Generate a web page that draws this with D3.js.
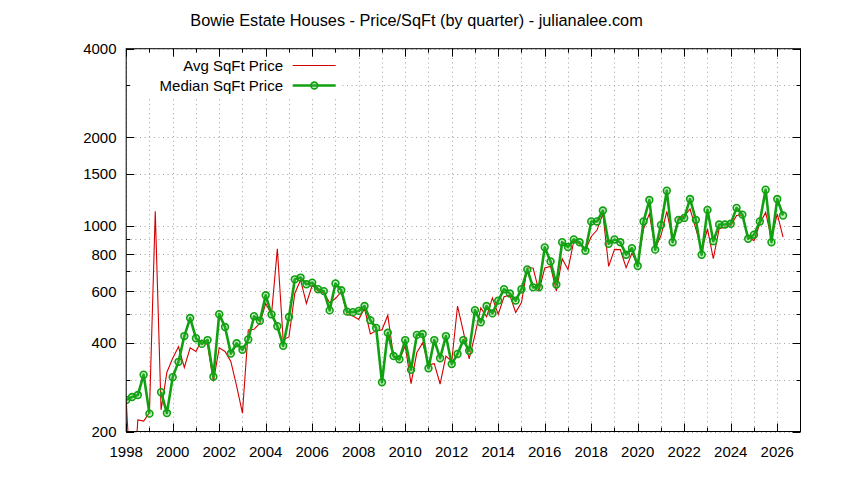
<!DOCTYPE html>
<html><head><meta charset="utf-8">
<script src="https://cdn.jsdelivr.net/npm/d3@7"></script>
<style>
body{margin:0;background:#fff;}
svg{display:block;font-family:"Liberation Sans",Arial,sans-serif;}
</style>
</head><body>
<svg id="chart" width="844" height="480"></svg>
<script>
const titleText = "Bowie Estate Houses - Price/SqFt (by quarter) - julianalee.com";
const seriesNames = ["Avg SqFt Price", "Median SqFt Price"];
const startYear = 1998;
const avgPrice = [256,110,219,217, 232,1120,237,318, 355,388,330,385, 374,409,394,296,
  385,374,346,285, 231,443,445,467, 545,500,836,410, 419,589,655,545,
  628,600,592,548, 566,597,500,494, 481,524,429,440, 443,497,358,350,
  391,291,371,400, 337,340,290,361, 346,534,437,353, 426,526,491,569,
  500,574,581,508, 549,719,719,600, 719,728,600,773, 711,887,870,825,
  920,968,1099,728, 832,830,721,807, 743,977,1099,840, 927,1120,895,1064,
  1077,1141,977,826, 977,773,977,989, 1000,1084,1090,915, 891,1016,1111,904,
  1099,915];
const medianPrice = [256,262,266,312, 230,null,272,231, 306,345,422,486, 415,397,409,307,
  501,453,368,399, 379,411,493,476, 581,500,456,391, 490,658,667,633,
  641,609,600,516, 637,604,511,509, 514,534,478,450, 294,433,361,352,
  409,324,426,429, 328,409,355,422, 339,367,409,376, 517,470,534,504,
  557,609,589,557, 609,711,618,618, 845,757,632,880, 847,899,879,823,
  1035,1035,1127,869, 899,879,798,840, 730,1035,1224,830, 1007,1317,880,1048,
  1064,1234,1048,798, 1133,887,1010,1010, 1016,1151,1092,904, 933,1035,1327,880,
  1234,1084];
const yMajorTicks = [200,400,600,800,1000,1500,2000,4000];
const yMinorTicks = [300,500,700,900,3000];
const xYearTicks = d3.range(1998, 2027);          // every year (grid)
const xLabelYears = d3.range(1998, 2027, 2);      // labeled years

const svg = d3.select("#chart");
const L = 126.2, R = 800.5, T = 48.7, B = 431.5;

const x = d3.scaleLinear().domain([1998, 2027]).range([L, R]);
const y = d3.scaleLog().domain([200, 4000]).range([B, T]);

const qx = i => startYear + i * 0.25;

// title
svg.append("text").attr("x", 416.5).attr("y", 25.5).attr("text-anchor", "middle")
  .attr("font-size", 16.3).attr("fill", "#000").text(titleText);

// grid
const grid = svg.append("g").attr("stroke", "#a0a0a0").attr("stroke-width", 1)
  .attr("stroke-dasharray", "1,3.6").attr("fill", "none");
xYearTicks.forEach(v => {
  const px = Math.round(x(v)) + 0.5;
  grid.append("line").attr("x1", px).attr("x2", px).attr("y1", T).attr("y2", B);
});
yMajorTicks.concat(yMinorTicks).forEach(v => {
  const py = Math.round(y(v)) + 0.5;
  grid.append("line").attr("x1", L).attr("x2", R).attr("y1", py).attr("y2", py);
});

// legend background (opaque, covers grid)
svg.append("rect").attr("x", L + 1).attr("y", T + 1).attr("width", 341 - L).attr("height", 96 - T)
  .attr("fill", "#fff");

// clip
svg.append("clipPath").attr("id", "clip").append("rect")
  .attr("x", L).attr("y", T).attr("width", R - L).attr("height", B - T);

const plot = svg.append("g").attr("clip-path", "url(#clip)");

const avgLine = d3.line().x((d, i) => x(qx(i))).y(d => y(d));
plot.append("path").attr("d", avgLine(avgPrice))
  .attr("fill", "none").attr("stroke", "#d40000").attr("stroke-width", 1.1);

const medLine = d3.line().defined(d => d != null).x((d, i) => x(qx(i))).y(d => y(d));
plot.append("path").attr("d", medLine(medianPrice))
  .attr("fill", "none").attr("stroke", "#10a010").attr("stroke-width", 2.6)
  .attr("stroke-linejoin", "round");
plot.selectAll("circle.m").data(medianPrice.map((v, i) => ({v, i})).filter(d => d.v != null))
  .join("circle").attr("class", "m")
  .attr("cx", d => x(qx(d.i))).attr("cy", d => y(d.v)).attr("r", 3.4)
  .attr("fill", "rgba(60,190,60,0.3)").attr("stroke", "#10a010").attr("stroke-width", 1.6);

// frame
svg.append("rect").attr("x", L).attr("y", T).attr("width", R - L).attr("height", B - T)
  .attr("fill", "none").attr("stroke", "#000").attr("stroke-width", 1);

// ticks
const tk = svg.append("g").attr("stroke", "#000").attr("stroke-width", 1);
xYearTicks.forEach(v => {
  const px = Math.round(x(v)) + 0.5;
  const len = (v % 2 === 0) ? 8 : 4;
  tk.append("line").attr("x1", px).attr("x2", px).attr("y1", B).attr("y2", B - len);
  tk.append("line").attr("x1", px).attr("x2", px).attr("y1", T).attr("y2", T + len);
});
yMajorTicks.forEach(v => {
  const py = Math.round(y(v)) + 0.5;
  tk.append("line").attr("x1", L).attr("x2", L + 8).attr("y1", py).attr("y2", py);
  tk.append("line").attr("x1", R).attr("x2", R - 8).attr("y1", py).attr("y2", py);
});
yMinorTicks.forEach(v => {
  const py = Math.round(y(v)) + 0.5;
  tk.append("line").attr("x1", L).attr("x2", L + 4).attr("y1", py).attr("y2", py);
  tk.append("line").attr("x1", R).attr("x2", R - 4).attr("y1", py).attr("y2", py);
});

// tick labels
svg.append("g").selectAll("text").data(xLabelYears).join("text")
  .attr("x", d => x(d)).attr("y", 457.3).attr("text-anchor", "middle")
  .attr("font-size", 15).text(d => d);
svg.append("g").selectAll("text").data(yMajorTicks).join("text")
  .attr("x", 116.5).attr("y", d => y(d) + 5.4).attr("text-anchor", "end")
  .attr("font-size", 15).text(d => d);

// legend
const lg = svg.append("g");
lg.append("text").attr("x", 283).attr("y", 70.7).attr("text-anchor", "end").attr("font-size", 15).text(seriesNames[0]);
lg.append("text").attr("x", 283).attr("y", 90.7).attr("text-anchor", "end").attr("font-size", 15).text(seriesNames[1]);
lg.append("line").attr("x1", 292.7).attr("x2", 335.7).attr("y1", 65.5).attr("y2", 65.5)
  .attr("stroke", "#d40000").attr("stroke-width", 1.1);
lg.append("line").attr("x1", 292.7).attr("x2", 335.7).attr("y1", 85.5).attr("y2", 85.5)
  .attr("stroke", "#10a010").attr("stroke-width", 2.6);
lg.append("circle").attr("cx", 314.3).attr("cy", 85.5).attr("r", 3.4)
  .attr("fill", "rgba(60,190,60,0.3)").attr("stroke", "#10a010").attr("stroke-width", 1.6);
</script>
</body></html>
